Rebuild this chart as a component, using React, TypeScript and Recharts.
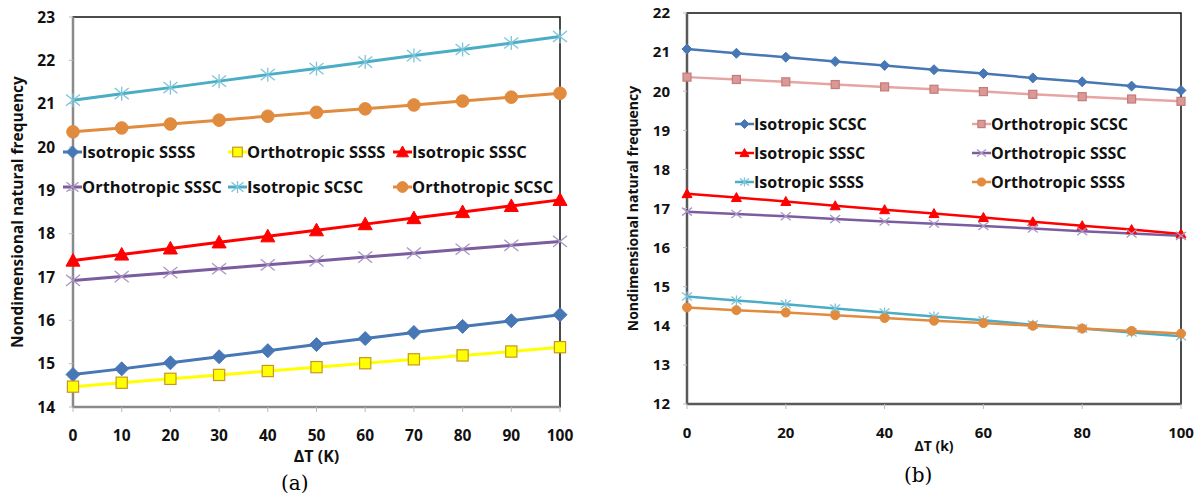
import React from "react";
import { LineChart, Line, XAxis, YAxis, ReferenceArea, Label } from "recharts";

// temperature rise, every 10 K
const DT = [0, 10, 20, 30, 40, 50, 60, 70, 80, 90, 100];

// (a) frequency vs temperature rise
const A_ISO_SSSS = [14.75, 14.88, 15.02, 15.16, 15.3, 15.44, 15.58, 15.72, 15.86, 15.99, 16.13];
const A_ORT_SSSS = [14.47, 14.56, 14.65, 14.74, 14.83, 14.92, 15.01, 15.1, 15.19, 15.28, 15.38];
const A_ISO_SSSC = [17.38, 17.52, 17.66, 17.8, 17.94, 18.08, 18.22, 18.36, 18.5, 18.64, 18.78];
const A_ORT_SSSC = [16.92, 17.01, 17.1, 17.19, 17.28, 17.37, 17.46, 17.55, 17.64, 17.73, 17.82];
const A_ISO_SCSC = [21.08, 21.23, 21.37, 21.52, 21.67, 21.81, 21.96, 22.11, 22.25, 22.4, 22.55];
const A_ORT_SCSC = [20.35, 20.44, 20.53, 20.62, 20.71, 20.8, 20.88, 20.97, 21.06, 21.15, 21.24];

// (b)
const B_ISO_SCSC = [21.08, 20.97, 20.87, 20.76, 20.66, 20.55, 20.45, 20.34, 20.24, 20.13, 20.02];
const B_ORT_SCSC = [20.36, 20.3, 20.24, 20.17, 20.11, 20.05, 19.99, 19.92, 19.86, 19.8, 19.74];
const B_ISO_SSSC = [17.38, 17.28, 17.18, 17.07, 16.97, 16.87, 16.77, 16.66, 16.56, 16.46, 16.35];
const B_ORT_SSSC = [16.92, 16.86, 16.8, 16.73, 16.67, 16.61, 16.55, 16.49, 16.42, 16.36, 16.3];
const B_ISO_SSSS = [14.75, 14.65, 14.55, 14.44, 14.34, 14.24, 14.14, 14.03, 13.93, 13.83, 13.73];
const B_ORT_SSSS = [14.47, 14.4, 14.34, 14.27, 14.2, 14.13, 14.07, 14.0, 13.93, 13.87, 13.8];

const A_X_TICKS = [0, 10, 20, 30, 40, 50, 60, 70, 80, 90, 100];
const A_Y_TICKS = [14, 15, 16, 17, 18, 19, 20, 21, 22, 23];
const B_X_TICKS = [0, 20, 40, 60, 80, 100];
const B_Y_TICKS = [12, 13, 14, 15, 16, 17, 18, 19, 20, 21, 22];

const FONT = "'Open Sans', 'Noto Sans', sans-serif";

type Kind = "diamond" | "square" | "triangle" | "cross" | "star" | "circle";

type Series = {
  key: string;
  name: string;
  values: number[];
  line: string;
  fill: string;
  stroke: string;
  kind: Kind;
};

const BLUE = "#4777B4";
const TEAL = "#4BACC6";
const ORANGE = "#E08B3E";
const PURPLE = "#7B5C9E";
const RED = "#FF0000";

const SERIES_A: Series[] = [
  { key: "isoSSSS", name: "Isotropic SSSS", values: A_ISO_SSSS, line: BLUE, fill: BLUE, stroke: BLUE, kind: "diamond" },
  { key: "ortSSSS", name: "Orthotropic SSSS", values: A_ORT_SSSS, line: "#FFFF00", fill: "#FFFF00", stroke: "#C8961E", kind: "square" },
  { key: "isoSSSC", name: "Isotropic SSSC", values: A_ISO_SSSC, line: RED, fill: RED, stroke: RED, kind: "triangle" },
  { key: "ortSSSC", name: "Orthotropic SSSC", values: A_ORT_SSSC, line: PURPLE, fill: "none", stroke: "#A995C5", kind: "cross" },
  { key: "isoSCSC", name: "Isotropic SCSC", values: A_ISO_SCSC, line: TEAL, fill: "none", stroke: "#7CC4D8", kind: "star" },
  { key: "ortSCSC", name: "Orthotropic SCSC", values: A_ORT_SCSC, line: ORANGE, fill: ORANGE, stroke: ORANGE, kind: "circle" },
];

const SERIES_B: Series[] = [
  { key: "isoSCSC", name: "Isotropic SCSC", values: B_ISO_SCSC, line: BLUE, fill: BLUE, stroke: BLUE, kind: "diamond" },
  { key: "ortSCSC", name: "Orthotropic SCSC", values: B_ORT_SCSC, line: "#E6A4A2", fill: "#DA9896", stroke: "#C47C7A", kind: "square" },
  { key: "isoSSSC", name: "Isotropic SSSC", values: B_ISO_SSSC, line: RED, fill: RED, stroke: RED, kind: "triangle" },
  { key: "ortSSSC", name: "Orthotropic SSSC", values: B_ORT_SSSC, line: PURPLE, fill: "none", stroke: "#A995C5", kind: "cross" },
  { key: "isoSSSS", name: "Isotropic SSSS", values: B_ISO_SSSS, line: TEAL, fill: "none", stroke: "#7CC4D8", kind: "star" },
  { key: "ortSSSS", name: "Orthotropic SSSS", values: B_ORT_SSSS, line: ORANGE, fill: ORANGE, stroke: ORANGE, kind: "circle" },
];

function toRows(series: Series[]) {
  return DT.map((dt, i) => {
    const row: Record<string, number> = { dt };
    series.forEach((s) => (row[s.key] = s.values[i]));
    return row;
  });
}

function Marker({ kind, cx, cy, r, fill, stroke }: { kind: Kind; cx: number; cy: number; r: number; fill: string; stroke: string }) {
  switch (kind) {
    case "diamond":
      return <polygon points={`${cx},${cy - r} ${cx + r},${cy} ${cx},${cy + r} ${cx - r},${cy}`} fill={fill} stroke={stroke} />;
    case "square":
      return <rect x={cx - r * 0.8} y={cy - r * 0.8} width={r * 1.6} height={r * 1.6} fill={fill} stroke={stroke} strokeWidth={1.2} />;
    case "triangle":
      return <polygon points={`${cx},${cy - r} ${cx + r},${cy + r * 0.8} ${cx - r},${cy + r * 0.8}`} fill={fill} stroke={stroke} />;
    case "circle":
      return <circle cx={cx} cy={cy} r={r * 0.9} fill={fill} stroke={stroke} />;
    case "cross":
      return (
        <g stroke={stroke} strokeWidth={1.3}>
          <line x1={cx - r} y1={cy - r * 0.8} x2={cx + r} y2={cy + r * 0.8} />
          <line x1={cx - r} y1={cy + r * 0.8} x2={cx + r} y2={cy - r * 0.8} />
        </g>
      );
    case "star":
      return (
        <g stroke={stroke} strokeWidth={1.3}>
          <line x1={cx - r} y1={cy - r * 0.8} x2={cx + r} y2={cy + r * 0.8} />
          <line x1={cx - r} y1={cy + r * 0.8} x2={cx + r} y2={cy - r * 0.8} />
          <line x1={cx} y1={cy - r} x2={cx} y2={cy + r} />
        </g>
      );
  }
}

function LegendItem({ s, r, lineW, x, y, fontSize }: { s: Series; r: number; lineW: number; x: number; y: number; fontSize: number }) {
  return (
    <div style={{ position: "absolute", left: x, top: y - 11, height: 22, display: "flex", alignItems: "center", whiteSpace: "nowrap" }}>
      <svg width={19} height={22} style={{ overflow: "visible" }}>
        <line x1={0} y1={11} x2={19} y2={11} stroke={s.line} strokeWidth={lineW} />
        <Marker kind={s.kind} cx={9.5} cy={11} r={r} fill={s.fill} stroke={s.stroke} />
      </svg>
      <span style={{ fontFamily: FONT, fontWeight: 700, fontSize, color: "#111", lineHeight: "22px" }}>{s.name}</span>
    </div>
  );
}

type PanelProps = {
  series: Series[];
  width: number;
  height: number;
  margin: { top: number; right: number; left: number; bottom: number };
  xTicks: number[];
  yTicks: number[];
  yDomain: [number, number];
  r: number;
  lineW: number;
  fontSize: number;
  axisColor: string;
  xLabel: string;
  xLabelOffset: number;
  xLabelSize: number;
  yLabelOffset: number;
  yLabelSize: number;
  tickGapY: number;
};

function Panel(p: PanelProps) {
  const rows = toRows(p.series);
  const tickStyle = { fontFamily: FONT, fontWeight: 700, fontSize: p.fontSize, fill: "#111" };
  return (
    <LineChart width={p.width} height={p.height} data={rows} margin={p.margin}>
      <ReferenceArea x1={0} x2={100} y1={p.yDomain[0]} y2={p.yDomain[1]} fill="none" stroke="#111" strokeWidth={1.5} />
      <XAxis
        dataKey="dt"
        type="number"
        domain={[0, 100]}
        ticks={p.xTicks}
        height={30}
        interval={0}
        tick={tickStyle}
        tickSize={5}
        tickMargin={18}
        tickLine={{ stroke: "#bbb" }}
        axisLine={{ stroke: p.axisColor, strokeWidth: 2.5 }}
      >
        <Label value={p.xLabel} position="bottom" offset={p.xLabelOffset} style={{ fontFamily: FONT, fontWeight: 700, fontSize: p.xLabelSize, fill: "#111" }} />
      </XAxis>
      <YAxis
        type="number"
        domain={p.yDomain}
        ticks={p.yTicks}
        width={60}
        interval={0}
        tick={tickStyle}
        tickSize={4}
        tickMargin={p.tickGapY}
        tickLine={{ stroke: "#bbb" }}
        axisLine={{ stroke: p.axisColor, strokeWidth: 2.5 }}
      >
        <Label
          value="Nondimensional natural frequency"
          angle={-90}
          position="insideLeft"
          offset={p.yLabelOffset}
          style={{ textAnchor: "middle", fontFamily: FONT, fontWeight: 700, fontSize: p.yLabelSize, fill: "#111" }}
        />
      </YAxis>
      {p.series.map((s) => (
        <Line
          key={s.key}
          dataKey={s.key}
          name={s.name}
          stroke={s.line}
          strokeWidth={p.lineW}
          isAnimationActive={false}
          dot={(d: any) => (
            <Marker key={`${s.key}-${d.index}`} kind={s.kind} cx={d.cx} cy={d.cy} r={p.r} fill={s.fill} stroke={s.stroke} />
          )}
          activeDot={false}
        />
      ))}
    </LineChart>
  );
}

// legend placement (line start x, row center y)
const A_LEGEND_COLS = [63, 228, 393];
const A_LEGEND_ROWS = [152, 187];
const B_LEGEND_COLS = [735, 972];
const B_LEGEND_ROWS = [124, 153, 182];

export default function App() {
  const aOrder = [0, 1, 2, 3, 4, 5];
  const bLeft = [0, 2, 4];
  const bRight = [1, 3, 5];
  return (
    <div style={{ position: "absolute", left: 0, top: 0, width: 1200, height: 501, background: "#fff", overflow: "hidden" }}>
      <div style={{ position: "absolute", left: 0, top: 0 }}>
        <Panel
          series={SERIES_A}
          width={580}
          height={480}
          margin={{ top: 17, right: 20, left: 13, bottom: 43 }}
          xTicks={A_X_TICKS}
          yTicks={A_Y_TICKS}
          yDomain={[14, 23]}
          r={7}
          lineW={3}
          fontSize={15.5}
          axisColor="#8a8a8a"
          xLabel="ΔT (K)"
          xLabelOffset={14}
          xLabelSize={16}
          yLabelOffset={4}
          yLabelSize={15.5}
          tickGapY={14}
        />
      </div>
      <div style={{ position: "absolute", left: 600, top: 0 }}>
        <Panel
          series={SERIES_B}
          width={600}
          height={480}
          margin={{ top: 13, right: 19, left: 27, bottom: 46 }}
          xTicks={B_X_TICKS}
          yTicks={B_Y_TICKS}
          yDomain={[12, 22]}
          r={5}
          lineW={2.5}
          fontSize={15}
          axisColor="#595959"
          xLabel="ΔT (k)"
          xLabelOffset={7}
          xLabelSize={14}
          yLabelOffset={6}
          yLabelSize={14}
          tickGapY={13}
        />
      </div>
      {aOrder.map((idx, i) => (
        <LegendItem
          key={`a-${idx}`}
          s={SERIES_A[idx]}
          r={6}
          lineW={3}
          x={A_LEGEND_COLS[i % 3]}
          y={A_LEGEND_ROWS[Math.floor(i / 3)]}
          fontSize={16.5}
        />
      ))}
      {bLeft.map((idx, i) => (
        <LegendItem key={`bl-${idx}`} s={SERIES_B[idx]} r={4.5} lineW={2.5} x={B_LEGEND_COLS[0]} y={B_LEGEND_ROWS[i]} fontSize={16} />
      ))}
      {bRight.map((idx, i) => (
        <LegendItem key={`br-${idx}`} s={SERIES_B[idx]} r={4.5} lineW={2.5} x={B_LEGEND_COLS[1]} y={B_LEGEND_ROWS[i]} fontSize={16} />
      ))}
      <div style={{ position: "absolute", left: 281, top: 471, fontFamily: "'DejaVu Serif', serif", fontSize: 20 }}>(a)</div>
      <div style={{ position: "absolute", left: 904, top: 463, fontFamily: "'DejaVu Serif', serif", fontSize: 20 }}>(b)</div>
    </div>
  );
}
